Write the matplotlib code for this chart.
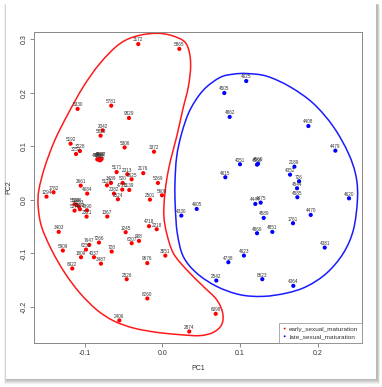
import numpy as np
import matplotlib
matplotlib.use("Agg")
import matplotlib.pyplot as plt
from matplotlib.path import Path
from matplotlib.patches import PathPatch, Rectangle

plt.rcParams['font.family'] = ['Liberation Sans', 'DejaVu Sans']

# PCA scores
early_ids = ["3172", "5865", "5330", "5781", "9829", "2042", "5826", "5192", "3228", "3252",
             "5306", "3372", "4588", "4567", "4580", "4597", "4589", "5171", "2313", "2176",
             "8625", "2661", "3489", "5124", "520", "5269", "4720", "5139", "2382", "2524",
             "1782", "1294", "4684", "2501", "5608", "5188", "5196", "5193", "5180", "5174",
             "4990", "2521", "1367", "3403", "1245", "4718", "2218", "7647", "7266", "6252",
             "5909", "728", "6207", "908", "1809", "4037", "3487", "6922", "9676", "3551",
             "2526", "6260", "2406", "2874", "6098"]
early_pc1 = [-0.0309, 0.0219, -0.109, -0.0657, -0.0429, -0.0768, -0.0794, -0.118, -0.106, -0.111,
             -0.0485, -0.0107, -0.0837, -0.0815, -0.0798, -0.0781, -0.0803, -0.0588, -0.045, -0.0245,
             -0.0395, -0.105, -0.066, -0.0712, -0.051, -0.0056, -0.0515, -0.0425, -0.0622, -0.0571,
             -0.140, -0.149, -0.0966, -0.0159, -0.0004, -0.1129, -0.1103, -0.1073, -0.106, -0.1129,
             -0.097, -0.0974, -0.0708, -0.1333, -0.0471, -0.0171, -0.0072, -0.094, -0.0815, -0.0982,
             -0.128, -0.0651, -0.0394, -0.030, -0.1046, -0.0879, -0.0789, -0.1158, -0.0193, 0.0039,
             -0.0458, -0.0193, -0.0553, 0.0347, 0.0687]
early_pc2 = [0.291, 0.282, 0.170, 0.176, 0.153, 0.130, 0.120, 0.105, 0.0913, 0.0857,
             0.098, 0.090, 0.0758, 0.0745, 0.0739, 0.0764, 0.077, 0.052, 0.048, 0.050,
             0.0385, 0.0267, 0.0317, 0.0273, 0.0317, 0.0317, 0.0193, 0.0186, 0.0118, 0.0012,
             0.0143, 0.0062, 0.0118, 0.0006, 0.0087, -0.0081, -0.0093, -0.0124, -0.0174, -0.0199,
             -0.0193, -0.0311, -0.031, -0.0597, -0.0603, -0.049, -0.0547, -0.084, -0.0796, -0.0927,
             -0.0945, -0.0964, -0.0808, -0.0765, -0.107, -0.107, -0.119, -0.128, -0.118, -0.104,
             -0.148, -0.184, -0.225, -0.2457, -0.2127]

late_ids = ["4625", "4505", "4862", "4408", "4479", "4051", "4566", "4569", "2189", "4615",
            "4352", "726", "4544", "4585", "4620", "4605", "4330", "4444", "4475", "4589",
            "4470", "1761", "4869", "4851", "4381", "4623", "4738", "2542", "8623", "4364"]
late_pc1 = [0.108, 0.0798, 0.0867, 0.188, 0.2227, 0.100, 0.1219, 0.1232, 0.170, 0.0811,
            0.1644, 0.176, 0.1734, 0.1738, 0.2403, 0.0443, 0.0245, 0.1197, 0.1266, 0.1305,
            0.191, 0.1682, 0.1219, 0.1416, 0.209, 0.105, 0.085, 0.0695, 0.1287, 0.1686]
late_pc2 = [0.222, 0.1996, 0.155, 0.138, 0.092, 0.0666, 0.0659, 0.0677, 0.0621, 0.0423,
            0.0472, 0.0349, 0.0218, 0.005, 0.003, -0.0168, -0.0293, -0.0075, -0.005, -0.0336,
            -0.028, -0.0435, -0.0622, -0.0597, -0.089, -0.1039, -0.1163, -0.1505, -0.148, -0.1604]

# hand-drawn enclosing outlines (control points, data units)
early_outline_x = [-0.0288, 0.0, 0.0249, 0.0335, 0.0365, 0.0335, 0.0262, 0.0185, 0.0107, 0.0056,
                   0.0026, 0.0021, 0.0056, 0.0142, 0.0313, 0.0528, 0.070, 0.0777, 0.0764, 0.0657,
                   0.0485, 0.0227, -0.0073, -0.0373, -0.0631, -0.0845, -0.106, -0.1253, -0.1425,
                   -0.1554, -0.1597, -0.1588, -0.1511, -0.1382, -0.121, -0.1017, -0.0803, -0.0545]
early_outline_y = [0.3075, 0.3106, 0.2994, 0.2826, 0.2516, 0.2112, 0.1677, 0.118, 0.0745, 0.0373,
                   0.0, -0.0311, -0.0621, -0.0994, -0.1304, -0.1615, -0.1863, -0.2112, -0.2329, -0.2472,
                   -0.2534, -0.2516, -0.2472, -0.2391, -0.2255, -0.205, -0.1739, -0.1366, -0.0932,
                   -0.0497, -0.0124, 0.0186, 0.0621, 0.1118, 0.1615, 0.2112, 0.2547, 0.2919]
late_outline_x = [0.1086, 0.0914, 0.0742, 0.0528, 0.0356, 0.0249, 0.0185, 0.0163, 0.0167, 0.0193,
                  0.027, 0.0442, 0.070, 0.100, 0.130, 0.160, 0.1858, 0.2116, 0.233, 0.2459,
                  0.2511, 0.2494, 0.2395, 0.2202, 0.1944, 0.1644, 0.1343]
late_outline_y = [0.236, 0.2348, 0.2286, 0.205, 0.1677, 0.1242, 0.0807, 0.0311, -0.0124, -0.0621,
                  -0.1056, -0.1366, -0.1615, -0.177, -0.1801, -0.1739, -0.1615, -0.1366, -0.0994, -0.0559,
                  0.0, 0.0435, 0.087, 0.1366, 0.1801, 0.2112, 0.2311]


def closed_curve(xs, ys):
    # closed Catmull-Rom through the control points, as cubic Bezier segments
    p = np.column_stack([xs, ys])
    n = len(p)
    verts = [p[0]]
    codes = [Path.MOVETO]
    for i in range(n):
        p0, p1, p2, p3 = p[i - 1], p[i], p[(i + 1) % n], p[(i + 2) % n]
        verts += [p1 + (p2 - p0) / 6, p2 - (p3 - p1) / 6, p2]
        codes += [Path.CURVE4] * 3
    return Path(verts, codes)


fig = plt.figure(figsize=(3.82, 3.87), dpi=100)
fig.patch.set_facecolor('white')

# card with soft drop shadow
W, H = 382.0, 387.0
cx0, cy0, cx1, cy1 = 6, 8.5, 376, 383.5
for k in range(5, 0, -1):
    fig.patches.append(Rectangle(((cx0 - k * 0.6 + 1) / W, (cy0 - k - 0.5) / H),
                                 (cx1 - cx0 + k * 1.2) / W, (cy1 - cy0 + k * 0.9) / H,
                                 transform=fig.transFigure, facecolor='black',
                                 edgecolor='none', alpha=0.06, zorder=-3))
fig.patches.append(Rectangle((cx0 / W, cy0 / H), (cx1 - cx0) / W, (cy1 - cy0) / H,
                             transform=fig.transFigure, facecolor='white',
                             edgecolor='none', zorder=-2))

ax = fig.add_axes([34.3 / W, 1 - 342.7 / H, (361.7 - 34.3) / W, (342.7 - 32.3) / H])
ax.set_facecolor('none')

ax.add_patch(PathPatch(closed_curve(early_outline_x, early_outline_y), facecolor='none',
                       edgecolor='#ff1a1a', lw=1.1, zorder=2))
ax.add_patch(PathPatch(closed_curve(late_outline_x, late_outline_y), facecolor='none',
                       edgecolor='#1a1aff', lw=1.1, zorder=2))

ax.scatter(early_pc1, early_pc2, s=9, color='#ff0000', edgecolors='none', zorder=3,
           label='early_sexual_maturation')
ax.scatter(late_pc1, late_pc2, s=9, color='#0000ff', edgecolors='none', zorder=3,
           label='late_sexual_maturation')

for xs, ys, ids in [(early_pc1, early_pc2, early_ids), (late_pc1, late_pc2, late_ids)]:
    for x, y, t in zip(xs, ys, ids):
        ax.annotate(t, (x, y), xytext=(0, 1.2), textcoords='offset points',
                    ha='center', va='bottom', fontsize=3.3, color='#333333', zorder=4)

ax.set_xlim(-0.1647, 0.2566)
ax.set_ylim(-0.2666, 0.313)
ax.set_xticks([-0.1, 0.0, 0.1, 0.2])
ax.set_yticks([-0.2, -0.1, 0.0, 0.1, 0.2, 0.3])
ax.set_xticklabels(['-0.1', '0.0', '0.1', '0.2'])
ax.set_yticklabels(['-0.2', '-0.1', '0.0', '0.1', '0.2', '0.3'], rotation=90, va='center')
ax.tick_params(axis='both', length=3, width=0.6, color='#777777', labelsize=5,
               labelcolor='#333333', pad=2)
for s in ax.spines.values():
    s.set_color('#888888')
    s.set_linewidth(0.7)
ax.set_xlabel('PC1', fontsize=5, color='#333333', labelpad=6)
ax.set_ylabel('PC2', fontsize=5, color='#333333', labelpad=6)

leg = ax.legend(loc='lower right', fontsize=4.6, borderaxespad=0, fancybox=False,
                markerscale=0.45, handletextpad=0.3, handlelength=0.8, borderpad=0.5,
                labelspacing=0.35, scatteryoffsets=[0.5])
leg.get_frame().set_edgecolor('#888888')
leg.get_frame().set_linewidth(0.6)
for t in leg.get_texts():
    t.set_color('#333333')

fig.savefig('out.png', dpi=100, facecolor='white')
